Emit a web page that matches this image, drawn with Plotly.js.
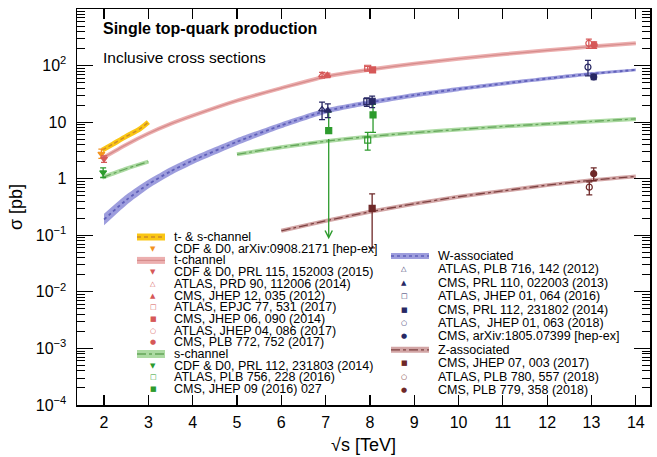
<!DOCTYPE html>
<html>
<head>
<meta charset="utf-8">
<script src="https://cdn.plot.ly/plotly-3.0.1.min.js"></script>
<style>html,body{margin:0;padding:0;background:#fff;}#chart{width:657px;height:457px;}</style>
</head>
<body>
<div id="chart"></div>
<script>
// ---------------- Theory curves ----------------
const tsX = [1.96, 2.2, 2.5, 2.8, 3.0];
const tsY = [3.2, 4.1, 5.6, 7.5, 10.0];

const tX = [1.96, 2.5, 3, 3.5, 4, 5, 6, 7, 8, 9, 10, 11, 12, 13, 14];
const tY = [2.3, 4.0, 6.3, 9.3, 13, 24, 40, 64, 85, 108, 132, 158, 186, 217, 248];

const sTevX = [1.96, 2.5, 3.0];
const sTevY = [1.05, 1.5, 2.0];
const sX = [5, 6, 7, 8, 9, 10, 11, 12, 13, 14];
const sY = [2.7, 3.6, 4.6, 5.6, 6.5, 7.4, 8.4, 9.3, 10.3, 11.4];

const wX  = [2, 2.5, 3, 3.5, 4, 5, 6, 7, 8, 9, 10, 11, 12, 13, 14];
const wY  = [0.19, 0.42, 0.8, 1.35, 2.1, 4.5, 8.8, 15.7, 22.4, 30, 38.5, 48, 59, 71.7, 84];
const wLo = [0.15, 0.34, 0.67, 1.15, 1.8, 3.9, 7.8, 14.1, 20.3, 27.4, 35.3, 44.3, 54.8, 67, 79];
const wHi = [0.24, 0.52, 0.96, 1.6, 2.45, 5.2, 9.9, 17.4, 24.6, 32.8, 41.9, 52, 63.5, 76.7, 89];

const zX = [6, 7, 8, 9, 10, 11, 12, 13, 14];
const zY = [0.12, 0.18, 0.26, 0.36, 0.48, 0.61, 0.77, 0.94, 1.1];

// ---------------- Measurements ----------------
const tsMeasLabels = ['CDF & D0, arXiv:0908.2171 [hep-ex]'];
const tsMeasX  = [[1.94]];
const tsMeasY  = [[2.76]];
const tsMeasUp = [[0.58]];
const tsMeasDn = [[0.47]];

const tMeasLabels = ['CDF & D0, PRL 115, 152003 (2015)', 'ATLAS, PRD 90, 112006 (2014)', 'CMS, JHEP 12, 035 (2012)',
  'ATLAS, EPJC 77, 531 (2017)', 'CMS, JHEP 06, 090 (2014)', 'ATLAS, JHEP 04, 086 (2017)', 'CMS, PLB 772, 752 (2017)'];
const tMeasX  = [[2.0], [6.92], [7.04], [7.95], [8.06], [12.94], [13.06]];
const tMeasY  = [[2.25], [68], [67.2], [89.6], [83.6], [247], [232]];
const tMeasUp = [[0.29], [8], [6.1], [7.1], [7.7], [46], [31]];
const tMeasDn = [[0.31], [8], [6.1], [6.3], [7.7], [46], [31]];

const sMeasLabels = ['CDF & D0, PRL 112, 231803 (2014)', 'ATLAS, PLB 756, 228 (2016)', 'CMS, JHEP 09 (2016) 027'];
const sMeasX  = [[1.98], [7.95], [7.07, 8.07]];
const sMeasY  = [[1.29], [4.8], [7.1, 13.4]];
const sMeasUp = [[0.26], [1.8], [8.1, 7.3]];
const sMeasDn = [[0.24], [1.6], [7.1, 6.8]];

const wMeasLabels = ['ATLAS, PLB 716, 142 (2012)', 'CMS, PRL 110, 022003 (2013)', 'ATLAS, JHEP 01, 064 (2016)',
  'CMS, PRL 112, 231802 (2014)', 'ATLAS,  JHEP 01, 063 (2018)', 'CMS, arXiv:1805.07399 [hep-ex]'];
const wMeasX  = [[6.92], [7.05], [7.93], [8.05], [12.92], [13.05]];
const wMeasY  = [[16.8], [16], [23.0], [23.4], [94], [63.1]];
const wMeasUp = [[5.7], [5], [3.9], [5.4], [30], [6.6]];
const wMeasDn = [[5.7], [4], [3.9], [5.4], [28], [6.6]];

const zMeasLabels = ['CMS, JHEP 07, 003 (2017)', 'ATLAS, PLB 780, 557 (2018)', 'CMS, PLB 779, 358 (2018)'];
const zMeasX  = [[8.05], [12.95], [13.05]];
const zMeasY  = [[0.30], [0.71], [1.23]];
const zMeasUp = [[0.24], [0.17], [0.33]];
const zMeasDn = [[0.24], [0.19], [0.31]];

const bandLabels = {ts: 't- & s-channel', t: 't-channel', s: 's-channel', w: 'W-associated', z: 'Z-associated'};

const xTickVals = [2, 3, 4, 5, 6, 7, 8, 9, 10, 11, 12, 13, 14];
const yTickVals = [1e-4, 1e-3, 1e-2, 1e-1, 1, 10, 100];
const yTickText = ['10<sup>−4</sup>', '10<sup>−3</sup>', '10<sup>−2</sup>', '10<sup>−1</sup>', '1', '10', '10<sup>2</sup>'];

// ---------------- Styles ----------------
const FONT = 'Liberation Sans, Arial, Helvetica, sans-serif';
const SYMFONT = 'DejaVu Sans, sans-serif';
const C = {
  tsBand: 'rgb(250,198,20)', tsLine: 'rgb(205,140,40)', tsMark: 'rgb(243,146,30)',
  tBand: 'rgb(236,175,175)', tLine: 'rgb(214,140,140)', tMark: 'rgb(214,88,88)',
  sBand: 'rgb(172,218,162)', sLine: 'rgb(100,165,90)', sMark: 'rgb(45,155,45)',
  wBand: 'rgba(140,140,215,0.85)', wLine: 'rgb(95,95,185)', wMark: 'rgb(40,40,100)',
  zBand: 'rgb(210,165,165)', zLine: 'rgb(125,65,65)', zMark: 'rgb(110,40,40)'
};
const tSyms = ['triangle-down', 'triangle-up-open', 'triangle-up', 'square-open', 'square', 'circle-open', 'circle'];
const sSyms = ['triangle-down', 'square-open', 'square'];
const wSyms = ['triangle-up-open', 'triangle-up', 'square-open', 'square', 'circle-open', 'circle'];
const zSyms = ['square', 'circle-open', 'circle'];
const glyph = {
  'triangle-down': '▼', 'triangle-up-open': '△', 'triangle-up': '▲',
  'square-open': '□', 'square': '■', 'circle-open': '○', 'circle': '●'
};
const limitArrowEnd = 0.085;

const traces = [];
const annotations = [];
const shapes = [];

function line(x, y, color, width, dash) {
  traces.push({x: x, y: y, type: 'scatter', mode: 'lines', hoverinfo: 'skip',
    line: {color: color, width: width, dash: dash || 'solid', shape: 'spline', smoothing: 0.6}});
}
// bands (thick line) + centre lines
line(tX, tY, C.tBand, 4); line(tX, tY, C.tLine, 1.2);
line(tsX, tsY, C.tsBand, 5); line(tsX, tsY, C.tsLine, 1.5, '4px,3px');
line(sTevX, sTevY, C.sBand, 4); line(sTevX, sTevY, C.sLine, 1.3, 'dashdot');
line(sX, sY, C.sBand, 4); line(sX, sY, C.sLine, 1.3, 'dashdot');
// W band as filled region
traces.push({x: wX, y: wLo, type: 'scatter', mode: 'lines', hoverinfo: 'skip', line: {width: 0, shape: 'spline', smoothing: 0.6}});
traces.push({x: wX, y: wHi, type: 'scatter', mode: 'lines', hoverinfo: 'skip', fill: 'tonexty', fillcolor: C.wBand, line: {width: 0, shape: 'spline', smoothing: 0.6}});
line(wX, wY, C.wLine, 1.8, 'dot');
line(zX, zY, C.zBand, 4); line(zX, zY, C.zLine, 1.3, 'dashdot');

function meas(xs, ys, ups, dns, syms, color, size) {
  for (let i = 0; i < xs.length; i++) {
    const dnDraw = [];
    for (let j = 0; j < ys[i].length; j++) {
      if (ys[i][j] - dns[i][j] <= 0) {
        // lower uncertainty reaches zero: drawn as a downward arrow
        dnDraw.push(0);
        annotations.push({x: xs[i][j], y: Math.log10(limitArrowEnd), ax: xs[i][j], ay: Math.log10(ys[i][j]),
          xref: 'x', yref: 'y', axref: 'x', ayref: 'y', text: ' ', showarrow: true,
          arrowhead: 5, arrowsize: 1.1, arrowwidth: 1.3, arrowcolor: color, standoff: 0, startstandoff: 0});
      } else dnDraw.push(dns[i][j]);
    }
    traces.push({x: xs[i], y: ys[i], type: 'scatter', mode: 'markers', hoverinfo: 'skip',
      marker: {symbol: syms[i], size: size, color: color, line: {color: color, width: 1.2}},
      error_y: {type: 'data', symmetric: false, array: ups[i], arrayminus: dnDraw, color: color, thickness: 1.3, width: 3}});
  }
}
meas(tsMeasX, tsMeasY, tsMeasUp, tsMeasDn, ['triangle-down'], C.tsMark, 6);
meas(tMeasX, tMeasY, tMeasUp, tMeasDn, tSyms, C.tMark, 6);
meas(sMeasX, sMeasY, sMeasUp, sMeasDn, sSyms, C.sMark, 6);
meas(wMeasX, wMeasY, wMeasUp, wMeasDn, wSyms, C.wMark, 6);
meas(zMeasX, zMeasY, zMeasUp, zMeasDn, zSyms, C.zMark, 6);

// ---------------- Layout helpers ----------------
const W = 657, H = 457;
const M = {l: 77, r: 7, t: 9, b: 52};
const PW = W - M.l - M.r, PH = H - M.t - M.b;
const px = x => (x - M.l) / PW;
const py = y => (H - M.b - y) / PH;
const LEGFONT = 12.5;

function legendBand(x0, x1, yc, h, band, lineC, dash, lw) {
  shapes.push({type: 'rect', xref: 'paper', yref: 'paper', x0: px(x0), x1: px(x1), y0: py(yc + h / 2), y1: py(yc - h / 2),
    fillcolor: band, line: {width: 0}});
  shapes.push({type: 'line', xref: 'paper', yref: 'paper', x0: px(x0), x1: px(x1), y0: py(yc), y1: py(yc),
    line: {color: lineC, width: lw, dash: dash}});
}
function legendText(x, y, txt) {
  annotations.push({xref: 'paper', yref: 'paper', x: px(x), y: py(y), xanchor: 'left', yanchor: 'middle', borderpad: 0,
    text: txt, showarrow: false, font: {family: FONT, size: LEGFONT, color: '#000'}});
}
function legendGlyph(x, y, sym, color) {
  annotations.push({xref: 'paper', yref: 'paper', x: px(x), y: py(y), xanchor: 'center', yanchor: 'middle', borderpad: 0,
    text: glyph[sym], showarrow: false, font: {family: SYMFONT, size: 7, color: color}});
}

// left legend
(function () {
  const bx0 = 137, bx1 = 165, gx = 153, tx = 173, y0 = 237, dy = 11.7;
  let r = 0;
  legendBand(bx0, bx1, y0 + dy * r, 7, C.tsBand, C.tsLine, '4px,3px', 1.5); legendText(tx, y0 + dy * r, bandLabels.ts); r++;
  legendGlyph(gx, y0 + dy * r, 'triangle-down', C.tsMark); legendText(tx, y0 + dy * r, tsMeasLabels[0]); r++;
  legendBand(bx0, bx1, y0 + dy * r, 7, C.tBand, C.tLine, 'solid', 1.2); legendText(tx, y0 + dy * r, bandLabels.t); r++;
  for (let i = 0; i < tMeasLabels.length; i++) { legendGlyph(gx, y0 + dy * r, tSyms[i], C.tMark); legendText(tx, y0 + dy * r, tMeasLabels[i]); r++; }
  legendBand(bx0, bx1, y0 + dy * r, 8, C.sBand, C.sLine, 'dashdot', 1.3); legendText(tx, y0 + dy * r, bandLabels.s); r++;
  for (let i = 0; i < sMeasLabels.length; i++) { legendGlyph(gx, y0 + dy * r, sSyms[i], C.sMark); legendText(tx, y0 + dy * r, sMeasLabels[i]); r++; }
})();
// right legend
(function () {
  const bx0 = 391, bx1 = 429, gx = 404, tx = 437, y0 = 256, dy = 13.4;
  let r = 0;
  legendBand(bx0, bx1, y0 + dy * r, 6, C.wBand, C.wLine, 'dot', 1.5); legendText(tx, y0 + dy * r, bandLabels.w); r++;
  for (let i = 0; i < wMeasLabels.length; i++) { legendGlyph(gx, y0 + dy * r, wSyms[i], C.wMark); legendText(tx, y0 + dy * r, wMeasLabels[i]); r++; }
  legendBand(bx0, bx1, y0 + dy * r, 6, C.zBand, C.zLine, 'dashdot', 1.3); legendText(tx, y0 + dy * r, bandLabels.z); r++;
  for (let i = 0; i < zMeasLabels.length; i++) { legendGlyph(gx, y0 + dy * r, zSyms[i], C.zMark); legendText(tx, y0 + dy * r, zMeasLabels[i]); r++; }
})();

// header texts
annotations.push({xref: 'paper', yref: 'paper', x: px(101), y: py(28), xanchor: 'left', yanchor: 'middle', showarrow: false,
  text: '<b>Single top-quark production</b>', font: {family: FONT, size: 16, color: '#000'}});
annotations.push({xref: 'paper', yref: 'paper', x: px(101), y: py(58), xanchor: 'left', yanchor: 'middle', showarrow: false,
  text: 'Inclusive cross sections', font: {family: FONT, size: 15.5, color: '#000'}});

const layout = {
  width: W, height: H,
  margin: M,
  paper_bgcolor: '#fff', plot_bgcolor: '#fff',
  showlegend: false,
  font: {family: FONT, color: '#000'},
  xaxis: {
    range: [1.39, 14.32], tickmode: 'array', tickvals: xTickVals,
    ticks: 'inside', ticklen: 10, tickwidth: 1.2, tickcolor: '#000',
    showline: true, linewidth: 1.5, linecolor: '#000', mirror: 'ticks',
    showgrid: false, zeroline: false,
    tickfont: {family: FONT, size: 16}, ticklabelstandoff: 2,
    title: {text: '√s [TeV]', font: {family: FONT, size: 18}, standoff: 8}
  },
  yaxis: {
    type: 'log', range: [-4, 3], tickmode: 'array', tickvals: yTickVals, ticktext: yTickText,
    ticks: 'inside', ticklen: 16, tickwidth: 1.2, tickcolor: '#000',
    minor: {ticks: 'inside', ticklen: 8, tickwidth: 1, tickcolor: '#000', dtick: 'D1', showgrid: false},
    showline: true, linewidth: 1.5, linecolor: '#000', mirror: 'ticks',
    showgrid: false, zeroline: false,
    tickfont: {family: FONT, size: 16}, ticklabelstandoff: 6,
    title: {text: 'σ [pb]', font: {family: FONT, size: 18}, standoff: 8}
  },
  annotations: annotations,
  shapes: shapes
};

Plotly.newPlot('chart', traces, layout, {staticPlot: true, displayModeBar: false});
</script>
</body>
</html>
